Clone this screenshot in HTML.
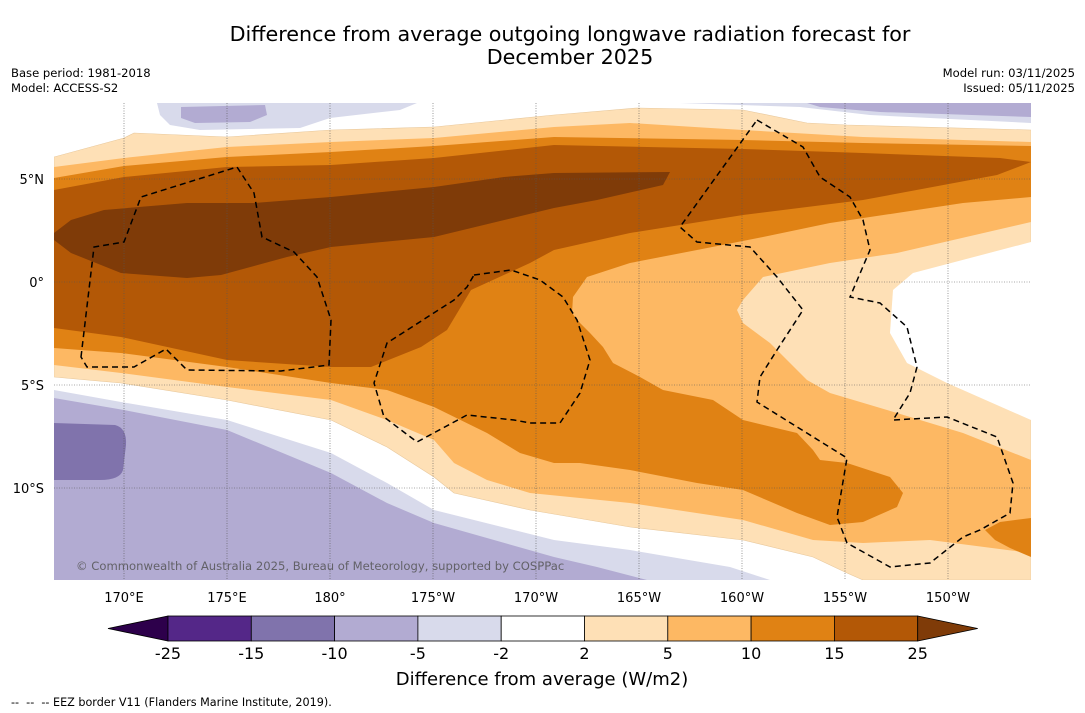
<!DOCTYPE html>
<html><head><meta charset="utf-8"><style>
body{margin:0;background:#fff;width:1085px;height:713px;overflow:hidden;font-family:"Liberation Sans","DejaVu Sans",sans-serif;}
svg{display:block}
</style></head><body>
<svg id="chart" width="1085" height="713" viewBox="0 0 1085 713" xmlns="http://www.w3.org/2000/svg" font-family="'DejaVu Sans','Liberation Sans',sans-serif">
<text x="570" y="41" font-size="20.7" text-anchor="middle">Difference from average outgoing longwave radiation forecast for</text>
<text x="570" y="64" font-size="20.7" text-anchor="middle">December 2025</text>
<text x="11" y="77" font-size="11.6">Base period: 1981-2018</text>
<text x="11" y="92" font-size="11.6">Model: ACCESS-S2</text>
<text x="1075" y="77" font-size="11.6" text-anchor="end">Model run: 03/11/2025</text>
<text x="1075" y="92" font-size="11.6" text-anchor="end">Issued: 05/11/2025</text>
<defs><clipPath id="mapclip"><rect x="54" y="103" width="977" height="477"/></clipPath></defs>
<g id="map" clip-path="url(#mapclip)">
<rect x="54" y="103" width="977" height="477" fill="#fff"/>
<polygon fill="#d8daeb" points="54,390 121,402 227,420 331,453 387,483 434,510 554,540 630,550 730,567 770,580 54,580"/>
<polygon fill="#b2abd2" points="54,398 124,410 227,430 331,473 387,503 434,523 554,557 597,567 647,580 54,580"/>
<path fill="#8073ac" d="M54,423 L115,425 Q127,428 126,445 L123,470 Q120,480 100,480 L54,480 Z"/>
<polygon fill="#d8daeb" points="157,103 417,103 400,110 330,118 300,128 200,130 170,125 160,115"/>
<polygon fill="#b2abd2" points="181,107 265,105 267,115 250,122 195,123 181,118"/>
<polygon fill="#d8daeb" points="680,103 1031,103 1031,123 870,115 800,107"/>
<polygon fill="#b2abd2" points="807,103 1031,103 1031,117 880,112 820,107"/>
<polygon fill="#fee0b6" stroke="#e8c89c" stroke-width="0.6" points="54,157 124,138 134,133 227,137 331,130 434,127 554,115 637,108 743,110 807,123 847,125 1031,130 1031,580 863,580 847,573 813,557 743,540 630,527 530,510 454,493 434,477 387,447 331,420 227,400 121,383 54,377"/>
<polygon fill="#fff" points="1031,242 913,273 893,290 890,333 907,363 947,383 1031,420"/>
<polygon fill="#fdb863" points="54,167 124,158 227,147 331,142 434,138 554,127 630,123 743,130 863,137 1031,142 1031,222 897,253 830,263 763,277 743,300 737,310 743,323 770,343 807,380 830,393 897,413 963,433 1031,460 1031,553 930,540 863,543 813,540 743,520 630,503 530,493 487,480 454,463 434,440 387,420 331,400 227,387 121,373 54,365"/>
<polygon fill="#e08214" points="54,178 124,166 227,157 331,152 434,146 554,137 743,140 863,143 1031,146 1031,197 963,203 897,213 830,223 763,237 697,250 630,263 587,277 573,297 572,313 580,323 590,333 603,347 613,363 640,377 663,390 713,400 743,420 797,433 813,450 820,460 847,463 890,477 903,493 897,507 863,522 830,525 797,513 743,490 697,483 630,470 580,463 554,463 520,453 487,433 434,407 387,390 331,383 227,367 121,353 54,348"/>
<polygon fill="#e08214" points="1031,518 1000,522 985,530 995,540 1010,548 1031,557"/>
<polygon fill="#b35806" points="54,190 124,177 227,167 331,165 434,158 554,145 743,149 863,153 1000,158 1031,162 997,175 863,200 743,215 630,233 554,250 530,263 471,290 447,330 421,347 371,367 331,367 227,360 121,337 54,328"/>
<polygon fill="#7f3b08" points="54,233 71,220 104,210 187,203 254,203 331,197 434,187 504,177 554,173 670,172 663,185 597,200 554,208 434,237 331,247 287,257 221,275 187,278 121,273 71,253 54,240"/>
<g id="grid" stroke="#555" stroke-width="0.6" stroke-dasharray="1,1.5"></g>
<g fill="none" stroke="#000" stroke-width="1.5" stroke-dasharray="6,4">
<polygon points="81,357 94,247 124,242 141,197 237,167 254,193 262,237 294,252 317,277 331,320 329,365 281,371 187,370 166,349 134,367 87,367"/>
<polygon points="474,275 511,270 540,280 563,297 577,320 590,360 580,393 560,423 530,423 514,420 467,415 417,442 384,417 374,383 387,343 454,300 467,287"/>
<polygon points="757,120 803,147 820,177 850,197 863,220 870,250 850,297 880,303 907,327 917,367 910,393 893,420 947,417 997,437 1013,483 1010,513 980,530 963,537 930,563 890,567 847,543 837,517 847,458 757,402 760,377 777,350 803,310 777,277 750,247 697,242 680,227"/>
</g>
<text x="76" y="570" font-size="11.6" fill="#555" opacity="0.85">© Commonwealth of Australia 2025, Bureau of Meteorology, supported by COSPPac</text>
</g>
<g id="axes" font-size="13"></g>
<g id="cbar"></g>
<text x="542" y="685" font-size="18" text-anchor="middle">Difference from average (W/m2)</text>
<text x="11" y="706" font-size="11.2" xml:space="preserve">--  --  -- EEZ border V11 (Flanders Marine Institute, 2019).</text>
</svg>
<script>
const lonTicks=[170,175,180,-175,-170,-165,-160,-155,-150];
const lonLabels=["170°E","175°E","180°","175°W","170°W","165°W","160°W","155°W","150°W"];
const latTicks=[5,0,-5,-10];
const latLabels=["5°N","0°","5°S","10°S"];
const levels=["-25","-15","-10","-5","-2","2","5","10","15","25"];
const levelColors=["#542788","#8073ac","#b2abd2","#d8daeb","#ffffff","#fee0b6","#fdb863","#e08214","#b35806"];
const underColor="#2d004b", overColor="#7f3b08";
const NS="http://www.w3.org/2000/svg";
function xLon(l){const e=l<0?360+l:l;return 124+(e-170)*20.6;}
function yLat(l){return 282-l*20.6;}
function mk(t,a,p){const e=document.createElementNS(NS,t);for(const k in a)e.setAttribute(k,a[k]);p.appendChild(e);return e;}
const grid=document.getElementById('grid'),axes=document.getElementById('axes');
lonTicks.forEach((l,i)=>{const x=xLon(l);
 const g=mk('line',{x1:x,x2:x,y1:103,y2:580},grid);
 
 
 const t=mk('text',{x:x,y:602,'text-anchor':'middle'},axes);t.textContent=lonLabels[i];
 
 });
latTicks.forEach((l,i)=>{const y=yLat(l);
 const g=mk('line',{x1:54,x2:1031,y1:y,y2:y},grid);
 
 
 const t=mk('text',{x:44,y:y+5,'text-anchor':'end'},axes);t.textContent=latLabels[i];
 
 });
const cb=document.getElementById('cbar');
const cx0=168,cw=83.3,cy=616,ch=25;
const lt=mk('polygon',{points:`108,${cy+ch/2} ${cx0},${cy} ${cx0},${cy+ch}`,fill:underColor,stroke:'#000','stroke-width':0.8},cb);


levelColors.forEach((c,i)=>{const r=mk('rect',{x:cx0+i*cw,y:cy,width:cw,height:ch,fill:c,stroke:'#000','stroke-width':0.8},cb);
 
 });
const xe=cx0+levelColors.length*cw;
const rt=mk('polygon',{points:`${xe},${cy} ${xe+60},${cy+ch/2} ${xe},${cy+ch}`,fill:overColor,stroke:'#000','stroke-width':0.8},cb);


levels.forEach((v,i)=>{const t=mk('text',{x:cx0+i*cw,y:659,'font-size':16,'text-anchor':'middle'},cb);t.textContent=v;
 
 });
</script>
</body></html>
